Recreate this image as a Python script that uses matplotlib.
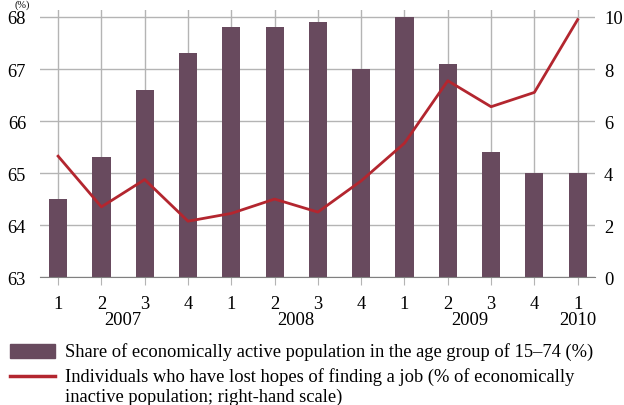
import matplotlib
matplotlib.use("Agg")
import matplotlib.pyplot as plt
from matplotlib.patches import Rectangle
from matplotlib.lines import Line2D

plt.rcParams['font.family'] = ['Liberation Serif', 'DejaVu Serif']
fs = 13.3

# data
quarters = ['1', '2', '3', '4', '1', '2', '3', '4', '1', '2', '3', '4', '1']
years = ['2007', '2008', '2009', '2010']
year_centers = [1.5, 5.5, 9.5, 12]
active_share = [64.5, 65.3, 66.6, 67.3, 67.8, 67.8, 67.9, 67.0, 68.0, 67.1, 65.4, 65.0, 65.0]
lost_hopes = [4.65, 2.7, 3.75, 2.15, 2.45, 3.0, 2.5, 3.7, 5.15, 7.55, 6.55, 7.1, 9.9]

bar_color = '#684a5e'
line_color = '#b3262f'
grid_color = '#b4b4b4'

fig = plt.figure(figsize=(6.24, 4.06), dpi=100)
ax = fig.add_axes([0.064, 0.315, 0.8895, 0.658])
x = list(range(len(quarters)))

ax.bar(x, active_share, width=0.42, color=bar_color, zorder=3)
ax.set_ylim(63, 68.135)
ax.set_xlim(-0.42, 12.4)
ax.set_yticks([63, 64, 65, 66, 67, 68])
ax.set_xticks(x)
ax.set_xticklabels(quarters)
ax.grid(True, color=grid_color, linewidth=1, zorder=0)
ax.set_axisbelow(True)
for s in ['left', 'right', 'top']:
    ax.spines[s].set_visible(False)
ax.spines['bottom'].set_color('#808080')
ax.spines['bottom'].set_zorder(4)
ax.tick_params(axis='y', length=0, pad=10, labelsize=fs)
ax.tick_params(axis='x', length=6, color=grid_color, pad=7, labelsize=fs)

for yr, c in zip(years, year_centers):
    ax.text(c, -0.16, yr, transform=ax.get_xaxis_transform(),
            ha='center', va='center', fontsize=fs)

ax2 = ax.twinx()
ax2.plot(x, lost_hopes, color=line_color, linewidth=2, zorder=5)
ax2.set_ylim(0, 10.27)
ax2.set_yticks([0, 2, 4, 6, 8, 10])
for s in ['left', 'right', 'top', 'bottom']:
    ax2.spines[s].set_visible(False)
ax2.tick_params(axis='y', length=0, pad=6.5, labelsize=fs)

# unit label at the very top
fig.text(0.035, 1.0, '(%)', ha='center', va='top', fontsize=7.5)

# legend drawn by hand so the line key sits on the first text line
fig.patches.append(Rectangle((10 / 624, 1 - 359 / 406), 45 / 624, 14 / 406,
                             transform=fig.transFigure, color=bar_color))
fig.lines.append(Line2D([10 / 624, 55 / 624], [1 - 377 / 406] * 2,
                        transform=fig.transFigure, color=line_color, linewidth=2.5))
fig.text(65 / 624, 1 - 352 / 406,
         'Share of economically active population in the age group of 15\u201374 (%)',
         ha='left', va='center', fontsize=fs)
fig.text(65 / 624, 1 - 377 / 406,
         'Individuals who have lost hopes of finding a job (% of economically',
         ha='left', va='center', fontsize=fs)
fig.text(65 / 624, 1 - 397 / 406,
         'inactive population; right-hand scale)',
         ha='left', va='center', fontsize=fs)

fig.savefig('out.png', dpi=100)
